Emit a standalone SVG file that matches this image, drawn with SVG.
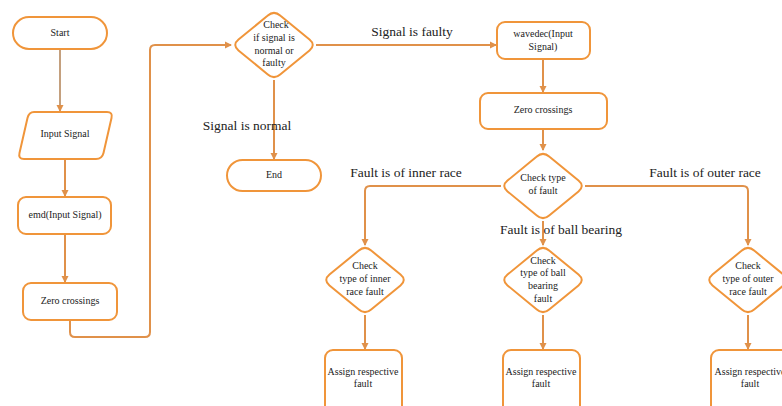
<svg xmlns="http://www.w3.org/2000/svg" width="782" height="406" viewBox="0 0 782 406">
<style>
.n{fill:#fff;stroke:#F0953A;stroke-width:2}
.t{font-family:'Liberation Serif','DejaVu Serif',serif;font-size:10px;fill:#222;text-anchor:middle}
.l{font-family:'Liberation Serif','DejaVu Serif',serif;font-size:13.5px;fill:#222;text-anchor:middle}
.c{fill:none;stroke:#E0914A;stroke-width:2;stroke-linejoin:round}
</style>
<defs>
<marker id="ah" markerWidth="8" markerHeight="8" refX="6" refY="4" orient="auto" markerUnits="userSpaceOnUse">
<path d="M0,0.5 L7,4 L0,7.5 Z" fill="#E0914A"/>
</marker>
<path id="dia" d="M-6.5,-29.2 Q0,-35 6.5,-29.2 L35.5,-5.4 Q42,0 35.5,5.4 L6.5,29.2 Q0,35 -6.5,29.2 L-35.5,5.4 Q-42,0 -35.5,-5.4 Z"/>
</defs>
<rect width="782" height="406" fill="#fff"/>
<g id="connectors">
<path class="c" d="M60,49 V111" style="stroke:#C4A07E" marker-end="url(#ah)"/>
<path class="c" d="M65,159 V196" marker-end="url(#ah)"/>
<path class="c" d="M65,234 V282" marker-end="url(#ah)"/>
<path class="c" d="M70,320 V332 Q70,337 75,337 H145 Q150,337 150,332 V50 Q150,45 155,45 H231" marker-end="url(#ah)"/>
<path class="c" d="M274,80 V159" marker-end="url(#ah)"/>
<path class="c" d="M316,45 H496" marker-end="url(#ah)"/>
<path class="c" d="M543,59 V92" marker-end="url(#ah)"/>
<path class="c" d="M543,129 V150" marker-end="url(#ah)"/>
<path class="c" d="M501,186 H370 Q365,186 365,191 V245" marker-end="url(#ah)"/>
<path class="c" d="M585,186 H743 Q748,186 748,191 V245" marker-end="url(#ah)"/>
<path class="c" d="M543,221 V245" marker-end="url(#ah)"/>
<path class="c" d="M365,315 V349" marker-end="url(#ah)"/>
<path class="c" d="M543,315 V349" marker-end="url(#ah)"/>
<path class="c" d="M748,315 V349" marker-end="url(#ah)"/>
<text class="l" x="412" y="36">Signal is faulty</text>
<text class="l" x="247" y="130">Signal is normal</text>
<text class="l" x="406" y="177">Fault is of inner race</text>
<text class="l" x="705" y="177">Fault is of outer race</text>
<text class="l" x="561" y="234">Fault is of ball bearing</text>
</g>
<g id="start">
<rect class="n" x="13" y="17" width="94" height="32" rx="16"/>
<text class="t" x="60" y="36">Start</text>
</g>
<g id="input">
<path class="n" d="M34,112 H107 Q113,112 111.5,118 L103.5,153 Q102,159 96,159 H24 Q18,159 19.5,153 L27.5,118 Q29,112 34,112 Z"/>
<text class="t" x="65" y="137">Input Signal</text>
</g>
<g id="emd">
<rect class="n" x="18" y="197" width="93" height="37" rx="8"/>
<text class="t" x="65" y="218">emd(Input Signal)</text>
</g>
<g id="zero1">
<rect class="n" x="23" y="283" width="94" height="37" rx="8"/>
<text class="t" x="70" y="304">Zero crossings</text>
</g>
<g id="check1">
<use href="#dia" class="n" x="274" y="45"/>
<text class="t" x="276" y="28">Check</text>
<text class="t" x="274" y="41">if signal is</text>
<text class="t" x="274" y="54">normal or</text>
<text class="t" x="274" y="66">faulty</text>
</g>
<g id="end">
<rect class="n" x="227" y="160" width="94" height="31" rx="15.5"/>
<text class="t" x="274" y="178">End</text>
</g>
<g id="wavedec">
<rect class="n" x="497" y="22" width="93" height="37" rx="8"/>
<text class="t" x="543" y="37">wavedec(Input</text>
<text class="t" x="543" y="50">Signal)</text>
</g>
<g id="zero2">
<rect class="n" x="480" y="93" width="127" height="36" rx="8"/>
<text class="t" x="543" y="113">Zero crossings</text>
</g>
<g id="check2">
<use href="#dia" class="n" x="543" y="186"/>
<text class="t" x="543" y="181">Check type</text>
<text class="t" x="543" y="194">of fault</text>
</g>
<g id="inner">
<use href="#dia" class="n" x="365" y="280"/>
<text class="t" x="365" y="269">Check</text>
<text class="t" x="365" y="282">type of inner</text>
<text class="t" x="365" y="295">race fault</text>
</g>
<g id="ball">
<use href="#dia" class="n" x="543" y="280"/>
<text class="t" x="543" y="264">Check</text>
<text class="t" x="543" y="276">type of ball</text>
<text class="t" x="543" y="289">bearing</text>
<text class="t" x="543" y="302">fault</text>
</g>
<g id="outer">
<use href="#dia" class="n" x="748" y="280"/>
<text class="t" x="748" y="269">Check</text>
<text class="t" x="748" y="282">type of outer</text>
<text class="t" x="748" y="295">race fault</text>
</g>
<g id="assign1">
<rect class="n" x="325" y="350" width="77" height="66" rx="8"/>
<text class="t" x="363" y="375">Assign respective</text>
<text class="t" x="363" y="387">fault</text>
</g>
<g id="assign2">
<rect class="n" x="503" y="350" width="77" height="66" rx="8"/>
<text class="t" x="541" y="375">Assign respective</text>
<text class="t" x="541" y="387">fault</text>
</g>
<g id="assign3">
<rect class="n" x="711" y="350" width="78" height="66" rx="8"/>
<text class="t" x="750" y="375">Assign respective</text>
<text class="t" x="750" y="387">fault</text>
</g>
</svg>
